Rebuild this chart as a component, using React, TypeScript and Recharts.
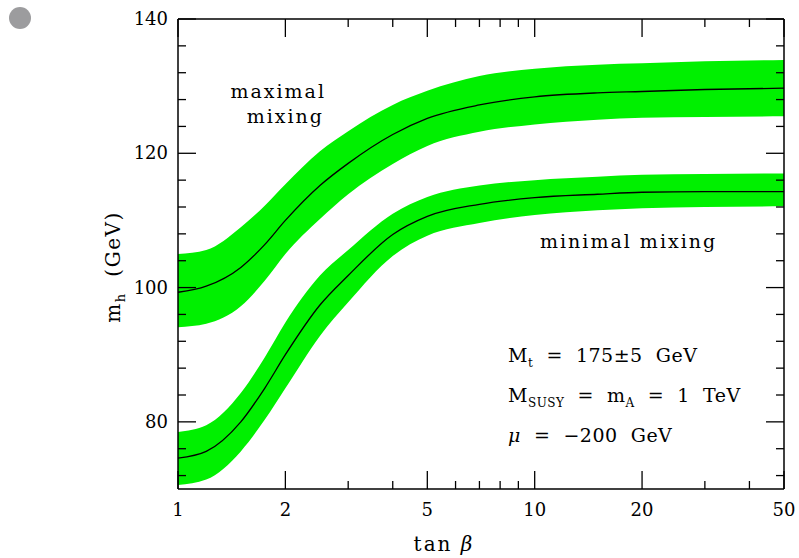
import React from "react";
import { ComposedChart, Area, Line, XAxis, YAxis } from "recharts";

const TAN_BETA = [1, 1.2, 1.5, 1.75, 2, 2.5, 3, 4, 5, 7, 10, 15, 20, 30, 50];
const MAX_CENTER = [99.3, 100.2, 103.0, 106.4, 110.0, 115.2, 118.5, 122.8, 125.2, 127.2, 128.4, 129.0, 129.2, 129.5, 129.7];
const MAX_HIGH = [105.0, 105.6, 109.0, 112.2, 115.4, 120.3, 123.3, 127.2, 129.3, 131.5, 132.6, 133.2, 133.4, 133.7, 133.9];
const MAX_LOW = [94.1, 94.6, 97.2, 101.0, 105.0, 110.2, 113.9, 118.4, 121.1, 123.2, 124.3, 125.0, 125.3, 125.4, 125.5];
const MIN_CENTER = [74.6, 75.6, 80.0, 85.0, 90.0, 97.4, 101.8, 107.9, 110.6, 112.4, 113.4, 113.9, 114.2, 114.3, 114.3];
const MIN_HIGH = [78.5, 79.5, 84.3, 89.6, 94.8, 101.8, 105.6, 111.0, 113.5, 115.2, 116.0, 116.5, 116.8, 116.9, 117.0];
const MIN_LOW = [70.6, 71.4, 75.6, 80.3, 85.0, 92.8, 97.8, 104.7, 107.7, 109.6, 110.8, 111.5, 111.8, 112.0, 112.1];

const X_TICKS = [1, 2, 3, 4, 5, 6, 7, 8, 9, 10, 20, 30, 40, 50];
const X_MAJOR = [1, 2, 5, 10, 20, 50];
const Y_TICKS = [72, 76, 80, 84, 88, 92, 96, 100, 104, 108, 112, 116, 120, 124, 128, 132, 136, 140];
const Y_MAJOR = [80, 100, 120, 140];

const data = TAN_BETA.map((t, i) => ({
  t,
  maxC: MAX_CENTER[i],
  maxBand: [MAX_LOW[i], MAX_HIGH[i]],
  minC: MIN_CENTER[i],
  minBand: [MIN_LOW[i], MIN_HIGH[i]],
}));

const FONT = "'DejaVu Serif', serif";
const GREEN = "#00f000";
const MAJ = 18;
const MIN = 8;

const BottomTick = (p: any) => {
  const { x, y, payload } = p;
  const major = X_MAJOR.includes(payload.value);
  return (
    <g>
      <line x1={x} x2={x} y1={y} y2={y - (major ? MAJ : MIN)} stroke="#000" strokeWidth={1.3} />
      {major && (
        <text x={x} y={y + 27} textAnchor="middle" fontFamily={FONT} fontSize={18} fill="#000">
          {payload.value}
        </text>
      )}
    </g>
  );
};

const TopTick = (p: any) => {
  const { x, y, payload } = p;
  const major = X_MAJOR.includes(payload.value);
  return <line x1={x} x2={x} y1={y} y2={y + (major ? MAJ : MIN)} stroke="#000" strokeWidth={1.3} />;
};

const LeftTick = (p: any) => {
  const { x, y, payload } = p;
  const major = Y_MAJOR.includes(payload.value);
  return (
    <g>
      <line x1={x} x2={x + (major ? MAJ : MIN)} y1={y} y2={y} stroke="#000" strokeWidth={1.3} />
      {major && (
        <text x={x - 10} y={y + 6} textAnchor="end" fontFamily={FONT} fontSize={18} fill="#000">
          {payload.value}
        </text>
      )}
    </g>
  );
};

const RightTick = (p: any) => {
  const { x, y, payload } = p;
  const major = Y_MAJOR.includes(payload.value);
  return <line x1={x} x2={x - (major ? MAJ : MIN)} y1={y} y2={y} stroke="#000" strokeWidth={1.3} />;
};

const txt = { fontFamily: FONT, fontSize: 19, fill: "#000", style: { whiteSpace: "pre" as const } };

export default function App() {
  return (
    <div style={{ position: "relative", width: 799, height: 558 }}>
      <style>{"html,body{margin:0;padding:0;overflow:hidden}#root{width:799px;height:558px}"}</style>
      <div style={{ position: "absolute", left: 8, top: 8, width: 791, height: 550 }}>
        <div
          style={{
            position: "absolute",
            left: 1,
            top: -1,
            width: 22,
            height: 22,
            borderRadius: "50%",
            background: "#9c9c9e",
          }}
        />
        <ComposedChart
          width={791}
          height={550}
          data={data}
          margin={{ top: 0, right: 5, bottom: 39, left: 110 }}
        >
          <XAxis
            dataKey="t"
            type="number"
            scale="log"
            domain={[1, 50]}
            allowDataOverflow
            ticks={X_TICKS}
            interval={0}
            tickSize={0}
            tickMargin={0}
            tick={<BottomTick />}
            axisLine={{ stroke: "#000", strokeWidth: 1.5 }}
            tickLine={false}
            height={30}
          />
          <XAxis
            xAxisId="top"
            orientation="top"
            dataKey="t"
            type="number"
            scale="log"
            domain={[1, 50]}
            allowDataOverflow
            ticks={X_TICKS}
            interval={0}
            tickSize={0}
            tickMargin={0}
            tick={<TopTick />}
            axisLine={{ stroke: "#000", strokeWidth: 1.5 }}
            tickLine={false}
            height={11}
          />
          <YAxis
            type="number"
            domain={[70, 140]}
            allowDataOverflow
            ticks={Y_TICKS}
            interval={0}
            tickSize={0}
            tickMargin={0}
            tick={<LeftTick />}
            axisLine={{ stroke: "#000", strokeWidth: 1.5 }}
            tickLine={false}
            width={60}
          />
          <YAxis
            yAxisId="right"
            orientation="right"
            type="number"
            domain={[70, 140]}
            allowDataOverflow
            ticks={Y_TICKS}
            interval={0}
            tickSize={0}
            tickMargin={0}
            tick={<RightTick />}
            axisLine={{ stroke: "#000", strokeWidth: 1.5 }}
            tickLine={false}
            width={10}
          />
          <Area
            dataKey="maxBand"
            type="monotone"
            stroke="none"
            fill={GREEN}
            fillOpacity={1}
            isAnimationActive={false}
          />
          <Area
            dataKey="minBand"
            type="monotone"
            stroke="none"
            fill={GREEN}
            fillOpacity={1}
            isAnimationActive={false}
          />
          <Line dataKey="maxC" type="monotone" stroke="#000" strokeWidth={1.3} dot={false} isAnimationActive={false} />
          <Line dataKey="minC" type="monotone" stroke="#000" strokeWidth={1.3} dot={false} isAnimationActive={false} />
        </ComposedChart>
        <svg
          width={791}
          height={550}
          style={{ position: "absolute", left: 0, top: 0, pointerEvents: "none" }}
        >
          <text {...txt} x={318} y={90} textAnchor="end" letterSpacing={2}>maximal</text>
          <text {...txt} x={316} y={115} textAnchor="end" letterSpacing={2}>mixing</text>
          <text {...txt} x={532} y={240} letterSpacing={2}>minimal mixing</text>
          <text {...txt} x={500} y={354} letterSpacing={0.5}>
            M<tspan fontSize={12} dy={5}>t</tspan>
            <tspan dy={-5}>{"  =  175±5  GeV"}</tspan>
          </text>
          <text {...txt} x={500} y={394} letterSpacing={0.5}>
            M<tspan fontSize={12} dy={5}>SUSY</tspan>
            <tspan dy={-5}>{"  =  m"}</tspan>
            <tspan fontSize={12} dy={5}>A</tspan>
            <tspan dy={-5}>{"  =  1  TeV"}</tspan>
          </text>
          <text {...txt} x={500} y={434} letterSpacing={0.5}>
            <tspan fontStyle="italic">μ</tspan>
            {"  =  −200  GeV"}
          </text>
          <text {...txt} fontSize={20} x={436} y={543} textAnchor="middle" letterSpacing={2}>
            {"tan "}<tspan fontStyle="italic">β</tspan>
          </text>
          <text {...txt} fontSize={20} transform="translate(112 259) rotate(-90)" textAnchor="middle" letterSpacing={1.5}>
            m<tspan fontSize={13} dy={5}>h</tspan>
            <tspan dy={-5}>{"  (GeV)"}</tspan>
          </text>
        </svg>
      </div>
    </div>
  );
}
